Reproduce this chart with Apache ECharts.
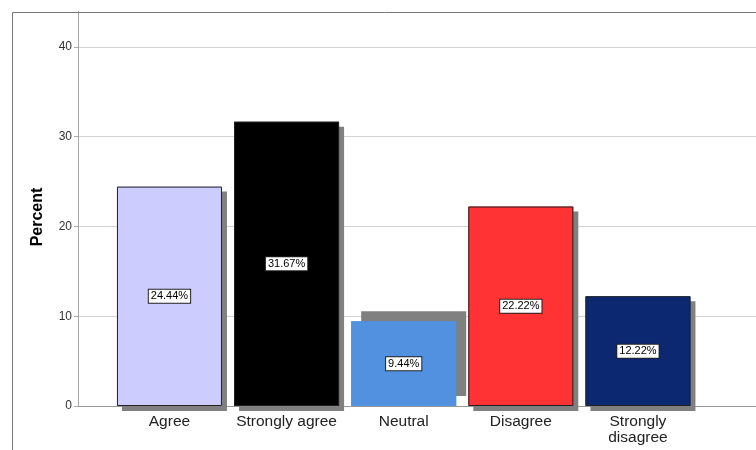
<!DOCTYPE html>
<html>
<head>
<meta charset="utf-8">
<script src="https://cdn.jsdelivr.net/npm/echarts@6/dist/echarts.min.js"></script>
<style>
html,body{margin:0;padding:0;background:#fff;}
#chart{width:756px;height:450px;}
</style>
</head>
<body>
<div id="chart"></div>
<script>
var categories = ['Agree', 'Strongly agree', 'Neutral', 'Disagree', 'Strongly\ndisagree'];
var percents = [24.44, 31.67, 9.44, 22.22, 12.22];
var barColors = ['#CCCCFF', '#000000', '#5290E0', '#FF3333', '#0B2870'];
var yTicks = [0, 10, 20, 30, 40];
var yAxisTitle = 'Percent';

var FONT = 'Liberation Sans, Arial, sans-serif';
var chart = echarts.init(document.getElementById('chart'), null, {renderer: 'canvas'});

// Shadow-casting layer (no border, so the stroke casts no extra shadow)
var shadowData = percents.map(function (v, i) {
  var isNeutral = i === 2;
  return {
    value: v,
    itemStyle: {
      color: barColors[i],
      borderWidth: 0,
      shadowColor: '#808080',
      shadowBlur: 0,
      shadowOffsetX: isNeutral ? 10 : 5,
      shadowOffsetY: isNeutral ? -10 : 5
    }
  };
});
// Top layer with border and label, no shadow
var barData = percents.map(function (v, i) {
  var isNeutral = i === 2;
  return {
    value: v,
    itemStyle: {
      color: barColors[i],
      borderColor: isNeutral ? barColors[i] : '#222',
      borderWidth: isNeutral ? 0 : 1
    }
  };
});

var option = {
  animation: false,
  backgroundColor: '#fff',
  grid: [
    {left: 78, right: 0, top: 11, bottom: 44},
    {left: 110.9, width: 585.6, top: 11, bottom: 44}
  ],
  xAxis: [
    {type: 'value', gridIndex: 0, min: 0, max: 1, axisLabel: {show: false}, axisTick: {show: false},
     splitLine: {show: false}, axisLine: {show: true, onZero: false, lineStyle: {color: '#999', width: 1}}},
    {type: 'category', gridIndex: 1, data: categories, boundaryGap: true,
     axisLine: {show: false}, axisTick: {show: false},
     axisLabel: {fontFamily: FONT, fontSize: 15.5, color: '#222', margin: 8, lineHeight: 16, interval: 0}}
  ],
  yAxis: [
    {type: 'value', gridIndex: 0, min: 0, max: 44, interval: 10,
     axisLine: {show: true, lineStyle: {color: '#aaa', width: 1}},
     axisTick: {show: true, length: 4, lineStyle: {color: '#aaa'}, customValues: yTicks},
     axisLabel: {fontFamily: FONT, fontSize: 12, color: '#333', margin: 6, customValues: yTicks,
       formatter: function (v) { return yTicks.indexOf(v) >= 0 ? String(v) : ''; }},
     splitLine: {show: true, lineStyle: {color: '#d4d4d4', width: 1}}},
    {type: 'value', gridIndex: 1, min: 0, max: 44, show: false, splitLine: {show: false}}
  ],
  graphic: [
    {type: 'line', shape: {x1: 12.5, y1: 12.5, x2: 756, y2: 12.5}, style: {stroke: '#777', lineWidth: 1}, z: 100},
    {type: 'line', shape: {x1: 12.5, y1: 12.5, x2: 12.5, y2: 450}, style: {stroke: '#777', lineWidth: 1}, z: 100},
    {type: 'text', x: 38, y: 217, rotation: Math.PI / 2,
     style: {text: yAxisTitle, font: 'bold 16px ' + FONT, fill: '#000', textAlign: 'center', textVerticalAlign: 'middle'}}
  ],
  series: [{
    type: 'bar',
    xAxisIndex: 1,
    yAxisIndex: 1,
    barWidth: 105,
    data: shadowData,
    silent: true,
    z: 2
  }, {
    type: 'bar',
    xAxisIndex: 1,
    yAxisIndex: 1,
    barWidth: 105,
    barGap: '-100%',
    data: barData,
    z: 3,
    label: {
      show: true,
      position: 'inside',
      formatter: function (p) { return p.value.toFixed(2) + '%'; },
      fontFamily: FONT,
      fontSize: 11,
      color: '#000',
      backgroundColor: '#fff',
      borderColor: '#222',
      borderWidth: 1,
      padding: [1, 2, 1, 2]
    }
  }]
};
chart.setOption(option);
</script>
</body>
</html>
